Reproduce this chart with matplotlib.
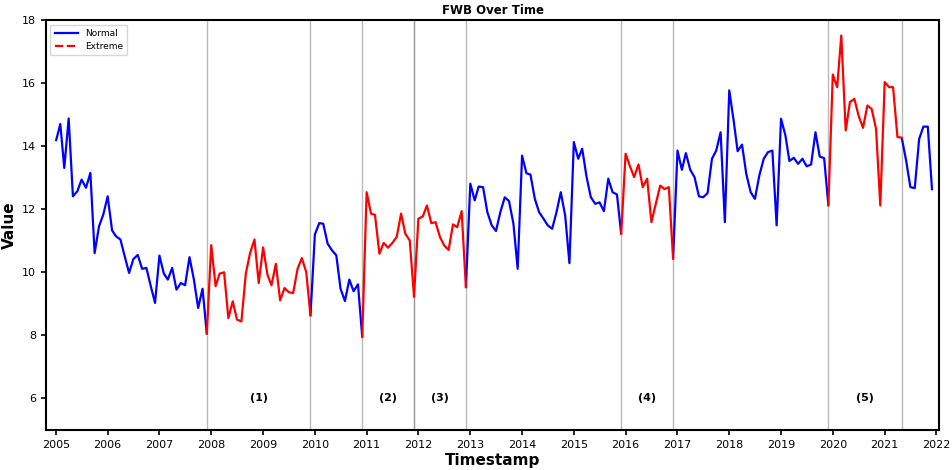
import numpy as np
import pandas as pd
import matplotlib
matplotlib.use("Agg")
import matplotlib.pyplot as plt
from matplotlib.lines import Line2D

# Monthly FWB values, January 2005 - December 2021
start_month = "2005-01-01"
fwb_values = [
    # 2005
    14.16, 14.70, 13.31, 14.88, 12.41, 12.57, 12.94, 12.68, 13.15, 10.61, 11.46, 11.83,
    # 2006
    12.41, 11.33, 11.14, 11.04, 10.51, 9.98, 10.42, 10.55, 10.11, 10.14, 9.56, 9.03,
    # 2007
    10.53, 9.96, 9.77, 10.14, 9.45, 9.66, 9.59, 10.48, 9.77, 8.87, 9.48, 8.05,
    # 2008
    10.86, 9.56, 9.96, 10.00, 8.55, 9.08, 8.50, 8.44, 9.96, 10.61, 11.04, 9.66,
    # 2009
    10.79, 9.92, 9.59, 10.27, 9.11, 9.50, 9.37, 9.34, 10.11, 10.45, 10.01, 8.63,
    # 2010
    11.20, 11.56, 11.54, 10.91, 10.70, 10.54, 9.48, 9.09, 9.77, 9.40, 9.62, 7.95,
    # 2011
    12.54, 11.86, 11.82, 10.59, 10.93, 10.78, 10.93, 11.12, 11.86, 11.22, 11.01, 9.24,
    # 2012
    11.70, 11.77, 12.12, 11.56, 11.59, 11.12, 10.85, 10.71, 11.52, 11.43, 11.94, 9.53,
    # 2013
    12.81, 12.28, 12.72, 12.70, 11.91, 11.49, 11.31, 11.91, 12.38, 12.26, 11.54, 10.11,
    # 2014
    13.70, 13.14, 13.10, 12.33, 11.91, 11.70, 11.49, 11.38, 11.91, 12.54, 11.80, 10.29,
    # 2015
    14.13, 13.60, 13.92, 13.02, 12.38, 12.17, 12.22, 11.94, 12.97, 12.54, 12.47, 11.22,
    # 2016
    13.76, 13.36, 13.02, 13.42, 12.70, 12.97, 11.59, 12.17, 12.75, 12.64, 12.70, 10.43,
    # 2017
    13.86, 13.25, 13.78, 13.25, 13.02, 12.41, 12.38, 12.51, 13.60, 13.86, 14.44, 11.59,
    # 2018
    15.77, 14.81, 13.84, 14.05, 13.12, 12.54, 12.33, 13.07, 13.60, 13.81, 13.86, 11.49,
    # 2019
    14.87, 14.34, 13.53, 13.63, 13.44, 13.60, 13.36, 13.42, 14.44, 13.67, 13.62, 12.12,
    # 2020
    16.27, 15.87, 17.51, 14.50, 15.40, 15.50, 14.97, 14.58, 15.29, 15.18, 14.55, 12.12,
    # 2021
    16.03, 15.87, 15.87, 14.29, 14.27, 13.55, 12.70, 12.67, 14.23, 14.62, 14.62, 12.60,
]

# Extreme periods (first and last month, inclusive) and their labels
period_starts = ["2007-12-01", "2010-12-01", "2011-12-01", "2015-12-01", "2019-12-01"]
period_ends = ["2009-12-01", "2011-12-01", "2012-12-01", "2016-12-01", "2021-05-01"]
period_labels = ["(1)", "(2)", "(3)", "(4)", "(5)"]

y_ticks = [6, 8, 10, 12, 14, 16, 18]

dates = pd.date_range(start_month, periods=len(fwb_values), freq="MS")
series = pd.Series(fwb_values, index=dates)

fig = plt.figure(figsize=(9.52, 4.70), dpi=100)
ax = fig.add_axes([0.0483, 0.0851, 0.9385, 0.8723])

# Normal series: hide points strictly inside an extreme period
normal = series.copy()
for s, e in zip(period_starts, period_ends):
    inner = (series.index > pd.Timestamp(s)) & (series.index < pd.Timestamp(e))
    normal[inner] = np.nan
ax.plot(normal.index, normal.values, color="blue", lw=1.6, solid_capstyle="butt")

# Extreme periods drawn in red, with period markers and labels
for s, e, lab in zip(period_starts, period_ends, period_labels):
    seg = series[pd.Timestamp(s):pd.Timestamp(e)]
    ax.plot(seg.index, seg.values, color="red", lw=1.6)
    ax.axvline(pd.Timestamp(s), color="gray", lw=1.0, alpha=0.55, zorder=0)
    ax.axvline(pd.Timestamp(e), color="gray", lw=1.0, alpha=0.55, zorder=0)
    mid = pd.Timestamp(s) + (pd.Timestamp(e) - pd.Timestamp(s)) / 2
    ax.text(mid, 6, lab, ha="center", va="center", fontsize=8, fontweight="bold")

ax.set_xlim(pd.Timestamp("2004-10-23"), pd.Timestamp("2022-01-22"))
ax.set_ylim(5, 18)
ax.set_yticks(y_ticks)
ax.xaxis.set_major_locator(matplotlib.dates.YearLocator())
ax.xaxis.set_major_formatter(matplotlib.dates.DateFormatter("%Y"))
ax.tick_params(labelsize=8, width=1.2, length=3.5)
for sp in ax.spines.values():
    sp.set_linewidth(1.5)

ax.set_title("FWB Over Time", fontsize=8.5, fontweight="bold", pad=4)
ax.set_xlabel("Timestamp", fontsize=11, fontweight="bold", labelpad=2)
ax.set_ylabel("Value", fontsize=11, fontweight="bold", labelpad=4)

handles = [Line2D([], [], color="blue", lw=1.6),
           Line2D([], [], color="red", lw=1.6, ls="--")]
ax.legend(handles, ["Normal", "Extreme"], loc="upper left", fontsize=6.5,
          handlelength=2.5, borderpad=0.5, labelspacing=0.4)

fig.savefig("out.png", dpi=100)
